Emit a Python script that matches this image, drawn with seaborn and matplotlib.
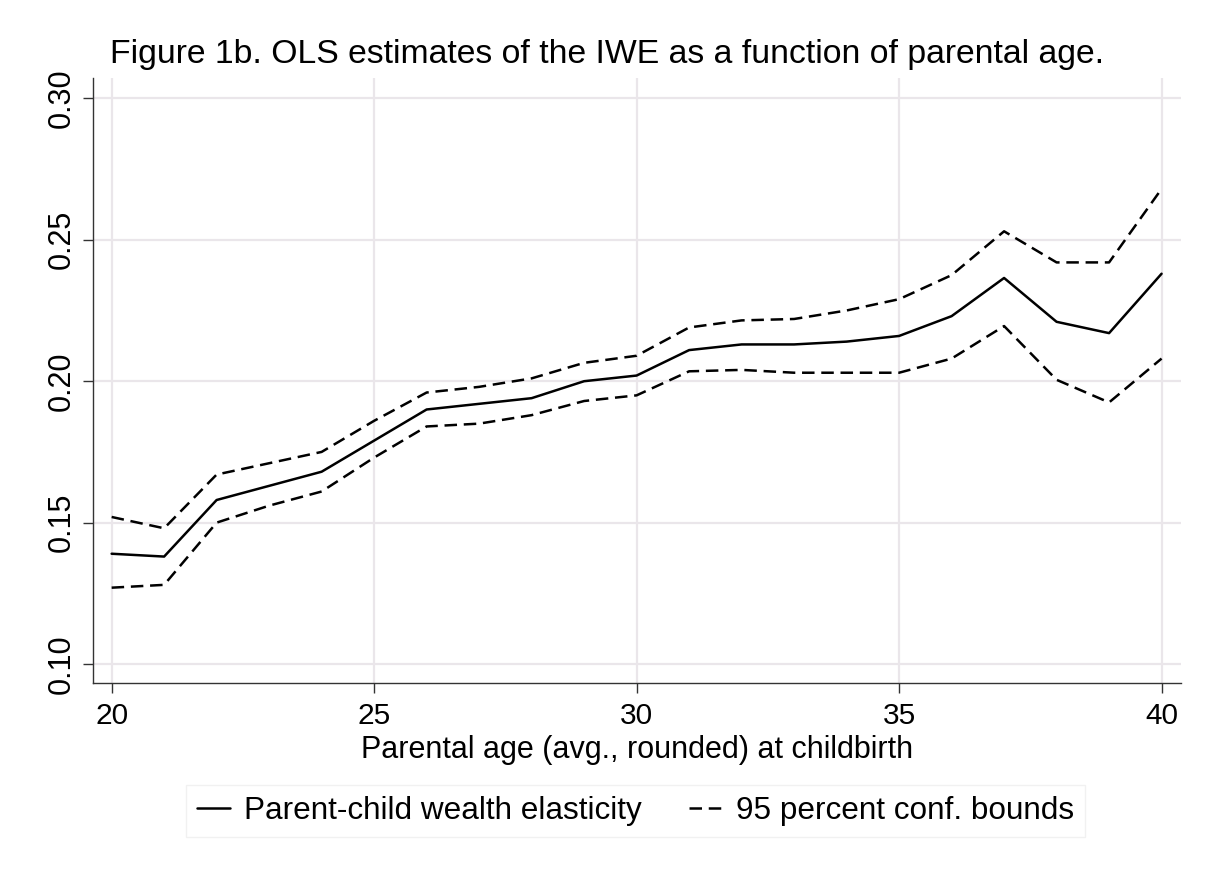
import numpy as np
import pandas as pd
import matplotlib
matplotlib.use("Agg")
import matplotlib.pyplot as plt
import seaborn as sns

# Parental age at childbirth (avg., rounded)
ages = list(range(20, 41))

# OLS point estimates of the intergenerational wealth elasticity
elasticity = [0.139, 0.138, 0.158, 0.163, 0.168, 0.179, 0.190, 0.192, 0.194, 0.200,
              0.202, 0.211, 0.213, 0.213, 0.214, 0.216, 0.223, 0.2365, 0.221, 0.217, 0.238]

# 95 percent confidence bounds
upper_bound = [0.152, 0.148, 0.167, 0.171, 0.175, 0.186, 0.196, 0.198, 0.201, 0.2065,
               0.209, 0.219, 0.2215, 0.222, 0.225, 0.229, 0.2375, 0.253, 0.242, 0.242, 0.268]
lower_bound = [0.127, 0.128, 0.150, 0.156, 0.161, 0.173, 0.184, 0.185, 0.188, 0.193,
               0.195, 0.2035, 0.204, 0.203, 0.203, 0.203, 0.208, 0.2195, 0.2005, 0.1925, 0.208]

y_ticks = [0.10, 0.15, 0.20, 0.25, 0.30]
x_ticks = [20, 25, 30, 35, 40]

title = "Figure 1b. OLS estimates of the IWE as a function of parental age."
x_label = "Parental age (avg., rounded) at childbirth"
legend_labels = ["Parent-child wealth elasticity", "95 percent conf. bounds"]

sns.set_style("white")
plt.rcParams["font.family"] = ["Liberation Sans", "DejaVu Sans"]
plt.rcParams["text.color"] = "black"
plt.rcParams["xtick.color"] = "#333333"
plt.rcParams["ytick.color"] = "#333333"

fig = plt.figure(figsize=(12.08, 8.77), dpi=100)
ax = fig.add_axes([93 / 1208, 1 - 683 / 877, (1181 - 93) / 1208, (683 - 78) / 877])

df = pd.DataFrame({"age": ages, "est": elasticity, "hi": upper_bound, "lo": lower_bound})

lw = 1.8
dash = (5.0, 2.7)
sns.lineplot(data=df, x="age", y="est", ax=ax, color="black", linewidth=lw,
             label=legend_labels[0])
sns.lineplot(data=df, x="age", y="hi", ax=ax, color="black", linewidth=lw,
             label=legend_labels[1])
sns.lineplot(data=df, x="age", y="lo", ax=ax, color="black", linewidth=lw)
for line in ax.lines[1:]:
    line.set_dashes(dash)

ax.set_xlim(19.645, 40.37)
ax.set_ylim(0.0933, 0.3072)
ax.set_xticks(x_ticks)
ax.set_yticks(y_ticks)
ax.set_xticklabels([str(t) for t in x_ticks], fontsize=21.5)
ax.set_yticklabels([f"{t:.2f}" for t in y_ticks], fontsize=22, rotation=90, va="center")
ax.set_xlabel("")
ax.set_ylabel("")

grid_color = "#EAE6EA"
ax.grid(True, color=grid_color, linewidth=1.6)
ax.set_axisbelow(True)
for side in ("top", "right"):
    ax.spines[side].set_visible(False)
for side in ("left", "bottom"):
    ax.spines[side].set_color("#333333")
    ax.spines[side].set_linewidth(1.0)
ax.tick_params(axis="both", which="major", direction="out", length=7, width=1.0,
               color="#333333", labelcolor="black")
ax.tick_params(axis="x", pad=7)
ax.tick_params(axis="y", pad=5)
ax.tick_params(axis="both", bottom=True, left=True)

fig.text(110 / 1208, 1 - 55 / 877, title, fontsize=24.3, ha="left", va="center",
         color="black")
fig.text(637 / 1208, 1 - 750 / 877, x_label, fontsize=22, ha="center", va="center",
         color="black")

handles, labels = ax.get_legend_handles_labels()
ax.get_legend().remove()
leg = fig.legend(handles, labels, loc="center", ncol=2,
                 bbox_to_anchor=((183 + 1088) / 2 / 1208, 1 - 811 / 877),
                 fontsize=22.7, frameon=True, fancybox=False, edgecolor="#EEEEEE",
                 handlelength=1.05, handletextpad=0.45, columnspacing=1.5,
                 borderpad=0.35, borderaxespad=0)
leg.get_frame().set_linewidth(1.0)
for t in leg.get_texts():
    t.set_color("black")

fig.savefig("out.png", dpi=100, facecolor="white")
